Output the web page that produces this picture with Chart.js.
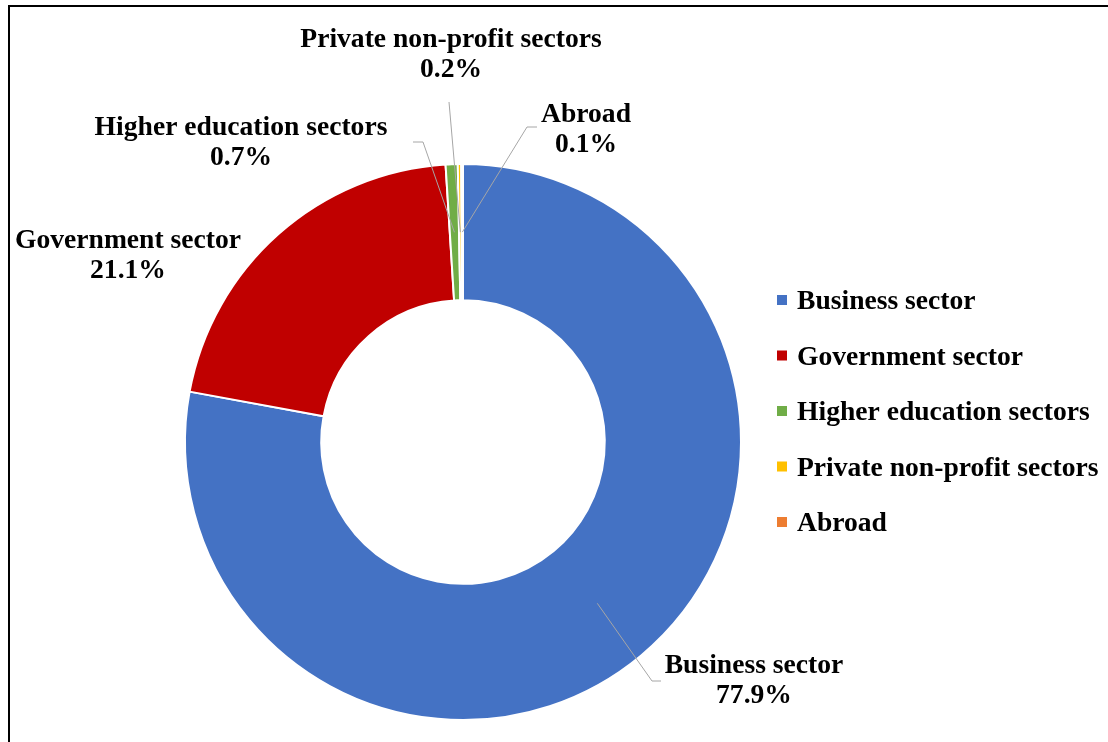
<!DOCTYPE html>
<html>
<head>
<meta charset="utf-8">
<script src="https://cdn.jsdelivr.net/npm/chart.js@4.4.0/dist/chart.umd.min.js"></script>
<style>
  html, body { margin: 0; padding: 0; background: #fff; overflow: hidden; }
  #wrap { position: relative; width: 1108px; height: 742px; }
  #frame { position: absolute; left: 8px; top: 5px; width: 1200px; height: 900px; border: 2px solid #000; pointer-events: none; }
  canvas { position: absolute; left: 0; top: 0; }
</style>
</head>
<body>
<div id="wrap">
  <canvas id="rdChart" width="1108" height="742"></canvas>
  <div id="frame"></div>
</div>
<script>
// R&D expenditure share by sector (%)
const categories = ['Business sector', 'Government sector', 'Higher education sectors', 'Private non-profit sectors', 'Abroad'];
const shares = [77.9, 21.1, 0.7, 0.2, 0.1];
const sliceColors = ['#4472C4', '#C00000', '#70AD47', '#FFC000', '#ED7D31'];

// where the data labels sit and how their leader lines bend
const labelSpots = [
  { x: 754, y: 665, leader: [[661, 681], [652, 681]] },
  { x: 128, y: 240, leader: null },
  { x: 241, y: 127, leader: [[413, 142], [423, 142]] },
  { x: 451, y: 39, leader: [[449, 102]] },
  { x: 586, y: 114, leader: [[537, 127], [527, 127]] }
];

const FONT = 'bold 27.6px "Liberation Serif", "Times New Roman", serif';

const labelsPlugin = {
  id: 'sectorLabels',
  afterDraw(chart) {
    const ctx = chart.ctx;
    const arcs = chart.getDatasetMeta(0).data;
    ctx.save();

    // leader lines
    ctx.strokeStyle = '#A6A6A6';
    ctx.lineWidth = 1;
    arcs.forEach((arc, i) => {
      const spot = labelSpots[i];
      if (!spot.leader) return;
      const p = arc.getProps(['x', 'y', 'startAngle', 'endAngle', 'innerRadius', 'outerRadius'], true);
      const mid = (p.startAngle + p.endAngle) / 2;
      const r = (p.innerRadius + p.outerRadius) / 2;
      const ex = p.x + Math.cos(mid) * r;
      const ey = p.y + Math.sin(mid) * r;
      ctx.beginPath();
      ctx.moveTo(spot.leader[0][0], spot.leader[0][1]);
      for (let k = 1; k < spot.leader.length; k++) ctx.lineTo(spot.leader[k][0], spot.leader[k][1]);
      ctx.lineTo(ex, ey);
      ctx.stroke();
    });

    // data labels
    ctx.fillStyle = '#000';
    ctx.font = FONT;
    ctx.textAlign = 'center';
    ctx.textBaseline = 'middle';
    categories.forEach((name, i) => {
      const spot = labelSpots[i];
      ctx.fillText(name, spot.x, spot.y + 1);
      ctx.fillText(shares[i].toFixed(1) + '%', spot.x, spot.y + 31);
    });

    // legend
    ctx.textAlign = 'left';
    categories.forEach((name, i) => {
      const y = 300 + i * 55.5;
      ctx.fillStyle = sliceColors[i];
      ctx.fillRect(777, y - 5, 10, 10);
      ctx.fillStyle = '#000';
      ctx.fillText(name, 797, y + 2);
    });
    ctx.restore();
  }
};

const ctx = document.getElementById('rdChart').getContext('2d');
const chart = new Chart(ctx, {
  type: 'doughnut',
  data: {
    labels: categories,
    datasets: [{
      data: shares,
      backgroundColor: sliceColors,
      borderColor: '#FFFFFF',
      borderWidth: 2
    }]
  },
  options: {
    responsive: false,
    animation: false,
    events: [],
    cutout: '51%',
    layout: { padding: { left: 184, right: 366, top: 163, bottom: 21 } },
    plugins: {
      legend: { display: false },
      tooltip: { enabled: false }
    }
  },
  plugins: [labelsPlugin]
});
</script>
</body>
</html>
